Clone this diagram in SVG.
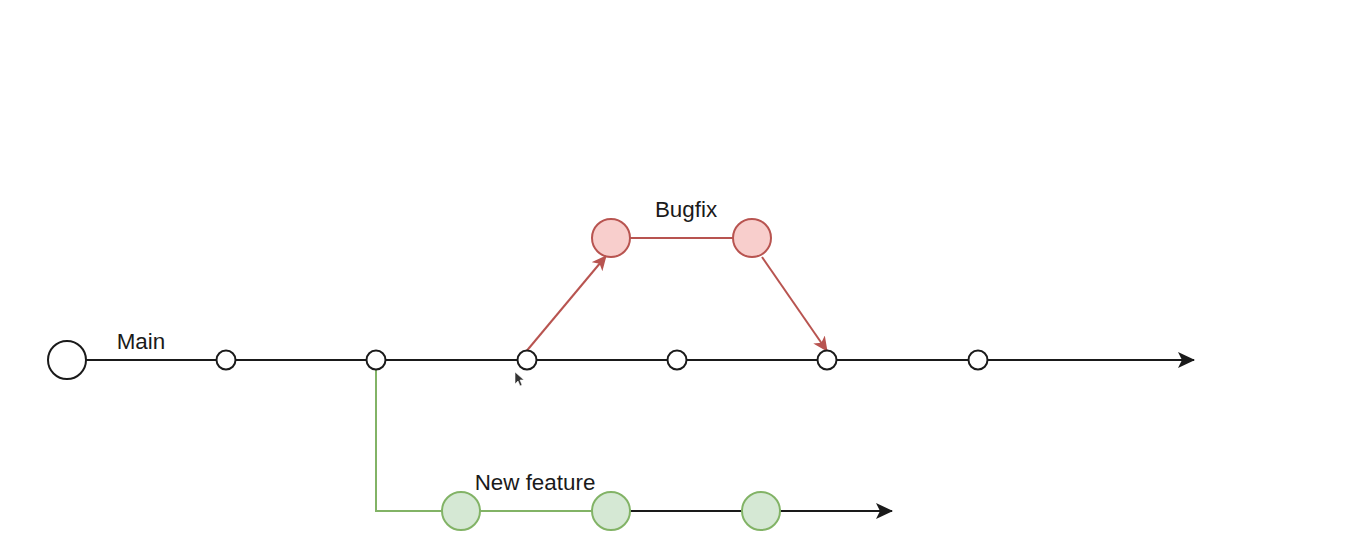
<svg xmlns="http://www.w3.org/2000/svg" width="1354" height="555" viewBox="0 0 1354 555">
<style>
.lbl{font-family:"Liberation Sans",Arial,sans-serif;font-size:22.4px;fill:#1a1a1a;text-anchor:middle}
.blk{stroke:#1a1a1a;stroke-width:2;fill:none}
.red{stroke:#b85450;stroke-width:2;fill:none}
.grn{stroke:#82b366;stroke-width:2;fill:none}
.c{fill:#ffffff;stroke:#1a1a1a;stroke-width:2}
.cr{fill:#f8cecc;stroke:#b85450;stroke-width:2}
.cg{fill:#d5e8d4;stroke:#82b366;stroke-width:2}
</style>
<defs>
<marker id="ab" viewBox="0 0 17 16" refX="16" refY="8" markerWidth="17" markerHeight="16" markerUnits="userSpaceOnUse" orient="auto">
<path d="M0,0 L17,8 L0,16 L4,8 Z" fill="#1a1a1a"/>
</marker>
<marker id="ar" viewBox="0 0 15 14" refX="14" refY="7" markerWidth="15" markerHeight="14" markerUnits="userSpaceOnUse" orient="auto">
<path d="M0,0 L15,7 L0,14 L4,7 Z" fill="#b85450"/>
</marker>
</defs>
<rect width="1354" height="555" fill="#ffffff"/>
<g id="connectors">
<line class="blk" x1="86" y1="360" x2="1194" y2="360" marker-end="url(#ab)"/>
<polyline class="grn" points="376,369.5 376,511 442,511"/>
<line class="grn" x1="480" y1="511" x2="592" y2="511"/>
<line class="blk" x1="630" y1="511" x2="742" y2="511"/>
<line class="blk" x1="780" y1="511" x2="892" y2="511" marker-end="url(#ab)"/>
<line class="red" x1="630" y1="238" x2="733" y2="238"/>
<line class="red" x1="527" y1="350.5" x2="606" y2="256" marker-end="url(#ar)"/>
<line class="red" x1="762" y1="257" x2="827" y2="351" marker-end="url(#ar)"/>
</g>
<g id="node-start"><circle class="c" cx="67" cy="360" r="19"/></g>
<g id="node-m1"><circle class="c" cx="226" cy="360" r="9.5"/></g>
<g id="node-m2"><circle class="c" cx="376" cy="360" r="9.5"/></g>
<g id="node-m3"><circle class="c" cx="527" cy="360" r="9.5"/></g>
<g id="node-m4"><circle class="c" cx="677" cy="360" r="9.5"/></g>
<g id="node-m5"><circle class="c" cx="827" cy="360" r="9.5"/></g>
<g id="node-m6"><circle class="c" cx="978" cy="360" r="9.5"/></g>
<g id="node-b1"><circle class="cr" cx="611" cy="238" r="19"/></g>
<g id="node-b2"><circle class="cr" cx="752" cy="238" r="19"/></g>
<g id="node-f1"><circle class="cg" cx="461" cy="511" r="19"/></g>
<g id="node-f2"><circle class="cg" cx="611" cy="511" r="19"/></g>
<g id="node-f3"><circle class="cg" cx="761" cy="511" r="19"/></g>
<g id="labels">
<text class="lbl" x="141" y="349">Main</text>
<text class="lbl" x="686" y="217">Bugfix</text>
<text class="lbl" x="535" y="490">New feature</text>
</g>
<path d="M515,372 L515,384 L518,381 L520,386 L522,385 L520,380 L524,380 Z" fill="#333333" stroke="#ffffff" stroke-width="0.6"/>
</svg>
